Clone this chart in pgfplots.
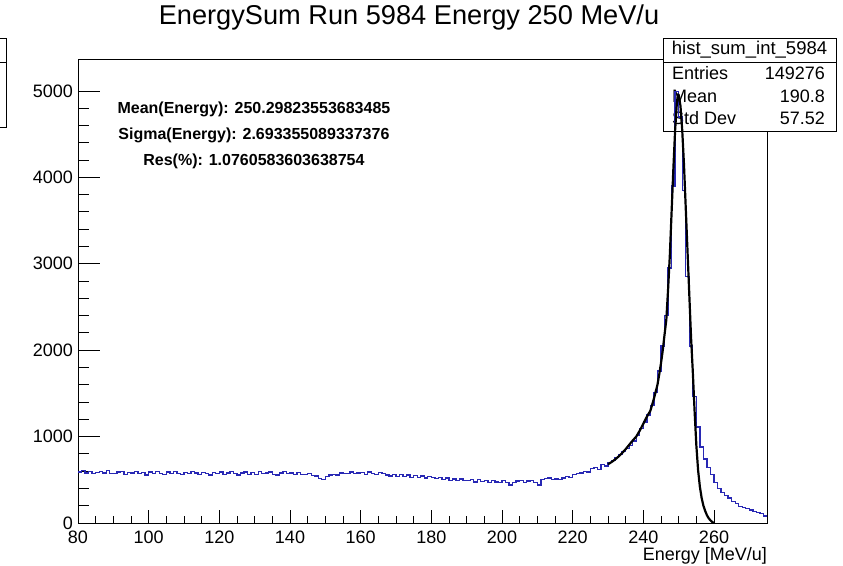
\documentclass[border=0pt]{standalone}
\usepackage{pgfplots}
\pgfplotsset{compat=1.18}
\usepackage{fontspec}
\setmainfont{Liberation Sans}
\definecolor{histblue}{RGB}{40,40,180}

\pgfplotstableread{
x y
80 590
81 605
82 580
83 595
84 570
85 585
86 595
87 580
88 605
89 575
90 570
91 590
92 595
93 565
94 585
95 580
96 595
97 570
98 585
99 555
100 590
101 575
102 595
103 570
104 565
105 590
106 575
107 595
108 570
109 560
110 585
111 570
112 595
113 580
114 565
115 585
116 570
117 555
118 585
119 570
120 590
121 565
122 580
123 595
124 575
125 555
126 580
127 590
128 565
129 585
130 560
131 595
132 575
133 580
134 590
135 565
136 555
137 580
138 595
139 575
140 580
141 565
142 585
143 560
144 565
145 575
146 550
147 545
148 515
149 505
150 540
151 555
152 565
153 555
154 580
155 575
156 570
157 590
158 575
159 580
160 585
161 565
162 590
163 570
164 565
165 585
166 570
167 555
168 545
169 560
170 535
171 560
172 540
173 555
174 530
175 550
176 525
177 545
178 520
179 540
180 530
181 515
182 530
183 500
184 520
185 495
186 510
187 490
188 510
189 495
190 490
191 505
192 475
193 500
194 480
195 495
196 470
197 495
198 475
199 470
200 490
201 470
202 440
203 470
204 485
205 490
206 470
207 485
208 495
209 465
210 440
211 500
212 515
213 520
214 505
215 510
216 500
217 520
218 540
219 530
220 560
221 570
222 580
223 600
224 590
225 630
226 640
227 620
228 680
229 660
230 700
231 720
232 760
233 790
234 830
235 860
236 900
237 950
238 1010
239 1090
240 1170
241 1250
242 1360
243 1510
244 1760
245 2050
246 2400
247 2950
248 3900
249 4990
250 4700
251 3850
252 2850
253 2050
254 1460
255 1110
256 880
257 740
258 640
259 560
260 470
261 400
262 355
263 315
264 290
265 250
266 225
267 195
268 180
269 165
270 150
271 135
272 120
273 110
274 80
275 80
}\histdata

\pgfplotstableread{
x y
230 680
231 705
232 735
233 770
234 810
235 855
236 905
237 955
238 1000
239 1070
240 1150
241 1230
242 1300
243 1440
244 1600
244.5 1720
245 1850
245.5 2000
246 2180
246.5 2350
247 2700
247.5 3100
248 3600
248.5 4100
249 4550
249.5 4870
249.8 4960
250 4955
250.5 4830
251 4550
251.5 4150
252 3650
252.5 3150
253 2650
253.5 2150
254 1750
254.5 1300
255 900
255.5 610
256 420
256.5 290
257 200
257.5 140
258 90
258.5 55
259 30
259.5 12
260 0
}\fitdata

\begin{document}
\begin{tikzpicture}
\begin{axis}[
  at={(78bp,43bp)}, anchor=south west,
  scale only axis, width=689bp, height=464bp,
  xmin=80, xmax=275, ymin=0, ymax=5370,
  xtick={80,100,...,260}, ytick={0,1000,...,5000},
  minor x tick num=3, minor y tick num=4,
  tick pos=left, tick align=inside,
  axis line style={line width=0.9bp},
  tick style={black, line width=0.9bp},
  major x tick style={/pgfplots/major tick length=13bp},
  minor x tick style={/pgfplots/minor tick length=7bp},
  major y tick style={/pgfplots/major tick length=22bp},
  minor y tick style={/pgfplots/minor tick length=11bp},
  ticklabel style={font=\fontsize{18bp}{20bp}\selectfont},
  /pgf/number format/assume math mode=true,
  /pgf/number format/1000 sep={},
  scaled y ticks=false,
  xticklabel style={inner sep=0pt, anchor=north, yshift=-8bp},
  yticklabel style={inner sep=0pt, anchor=east, xshift=-5bp},
  clip=false,
]
% stats box
\draw[fill=white, line width=0.9bp] (axis cs:245.57,4537) rectangle (axis cs:294.53,5613);
\draw[line width=0.9bp] (axis cs:245.57,5335) -- (axis cs:294.53,5335);
\node[font=\fontsize{18.5bp}{20bp}\selectfont] at (axis cs:270.05,5474) {hist\_sum\_int\_5984};
\node[font=\fontsize{18bp}{20bp}\selectfont, anchor=west, inner sep=0pt] at (axis cs:248.11,5208) {Entries};
\node[font=\fontsize{18bp}{20bp}\selectfont, anchor=west, inner sep=0pt] at (axis cs:248.11,4942) {Mean};
\node[font=\fontsize{18bp}{20bp}\selectfont, anchor=west, inner sep=0pt] at (axis cs:248.11,4687) {Std Dev};
\node[font=\fontsize{18bp}{20bp}\selectfont, anchor=east, inner sep=0pt] at (axis cs:291.42,5208) {149276};
\node[font=\fontsize{18bp}{20bp}\selectfont, anchor=east, inner sep=0pt] at (axis cs:291.42,4942) {190.8};
\node[font=\fontsize{18bp}{20bp}\selectfont, anchor=east, inner sep=0pt] at (axis cs:291.42,4687) {57.52};
% fit results text
\node[font=\bfseries\fontsize{16bp}{18bp}\selectfont, inner sep=0pt] at (axis cs:129.8,4790) {Mean(Energy): 250.29823553683485};
\node[font=\bfseries\fontsize{16bp}{18bp}\selectfont, inner sep=0pt] at (axis cs:129.8,4490) {Sigma(Energy): 2.693355089337376};
\node[font=\bfseries\fontsize{16bp}{18bp}\selectfont, inner sep=0pt] at (axis cs:129.8,4180) {Res(\%): 1.0760583603638754};
% histogram and fit
\addplot[histblue, line width=1.3bp, const plot, mark=none] table[x=x, y=y] {\histdata};
\addplot[black, line width=2.2bp, mark=none, line join=round] table[x=x, y=y] {\fitdata};
\end{axis}
% title and axis label
\node[font=\fontsize{27.2bp}{30bp}\selectfont, anchor=base, inner sep=0pt] at (409bp,541.5bp) {EnergySum Run 5984 Energy 250 MeV/u};
\node[font=\fontsize{18bp}{20bp}\selectfont, anchor=base east, inner sep=0pt] at (767bp,5.5bp) {Energy [MeV/u]};
% partially visible box at left edge
\draw[line width=0.9bp] (-2bp,528bp) -- (6bp,528bp) -- (6bp,439bp) -- (-2bp,439bp);
\draw[line width=0.9bp] (-2bp,504bp) -- (6bp,504bp);
\pgfresetboundingbox
\useasboundingbox (0,0) rectangle (843bp,566bp);
\end{tikzpicture}
\end{document}
